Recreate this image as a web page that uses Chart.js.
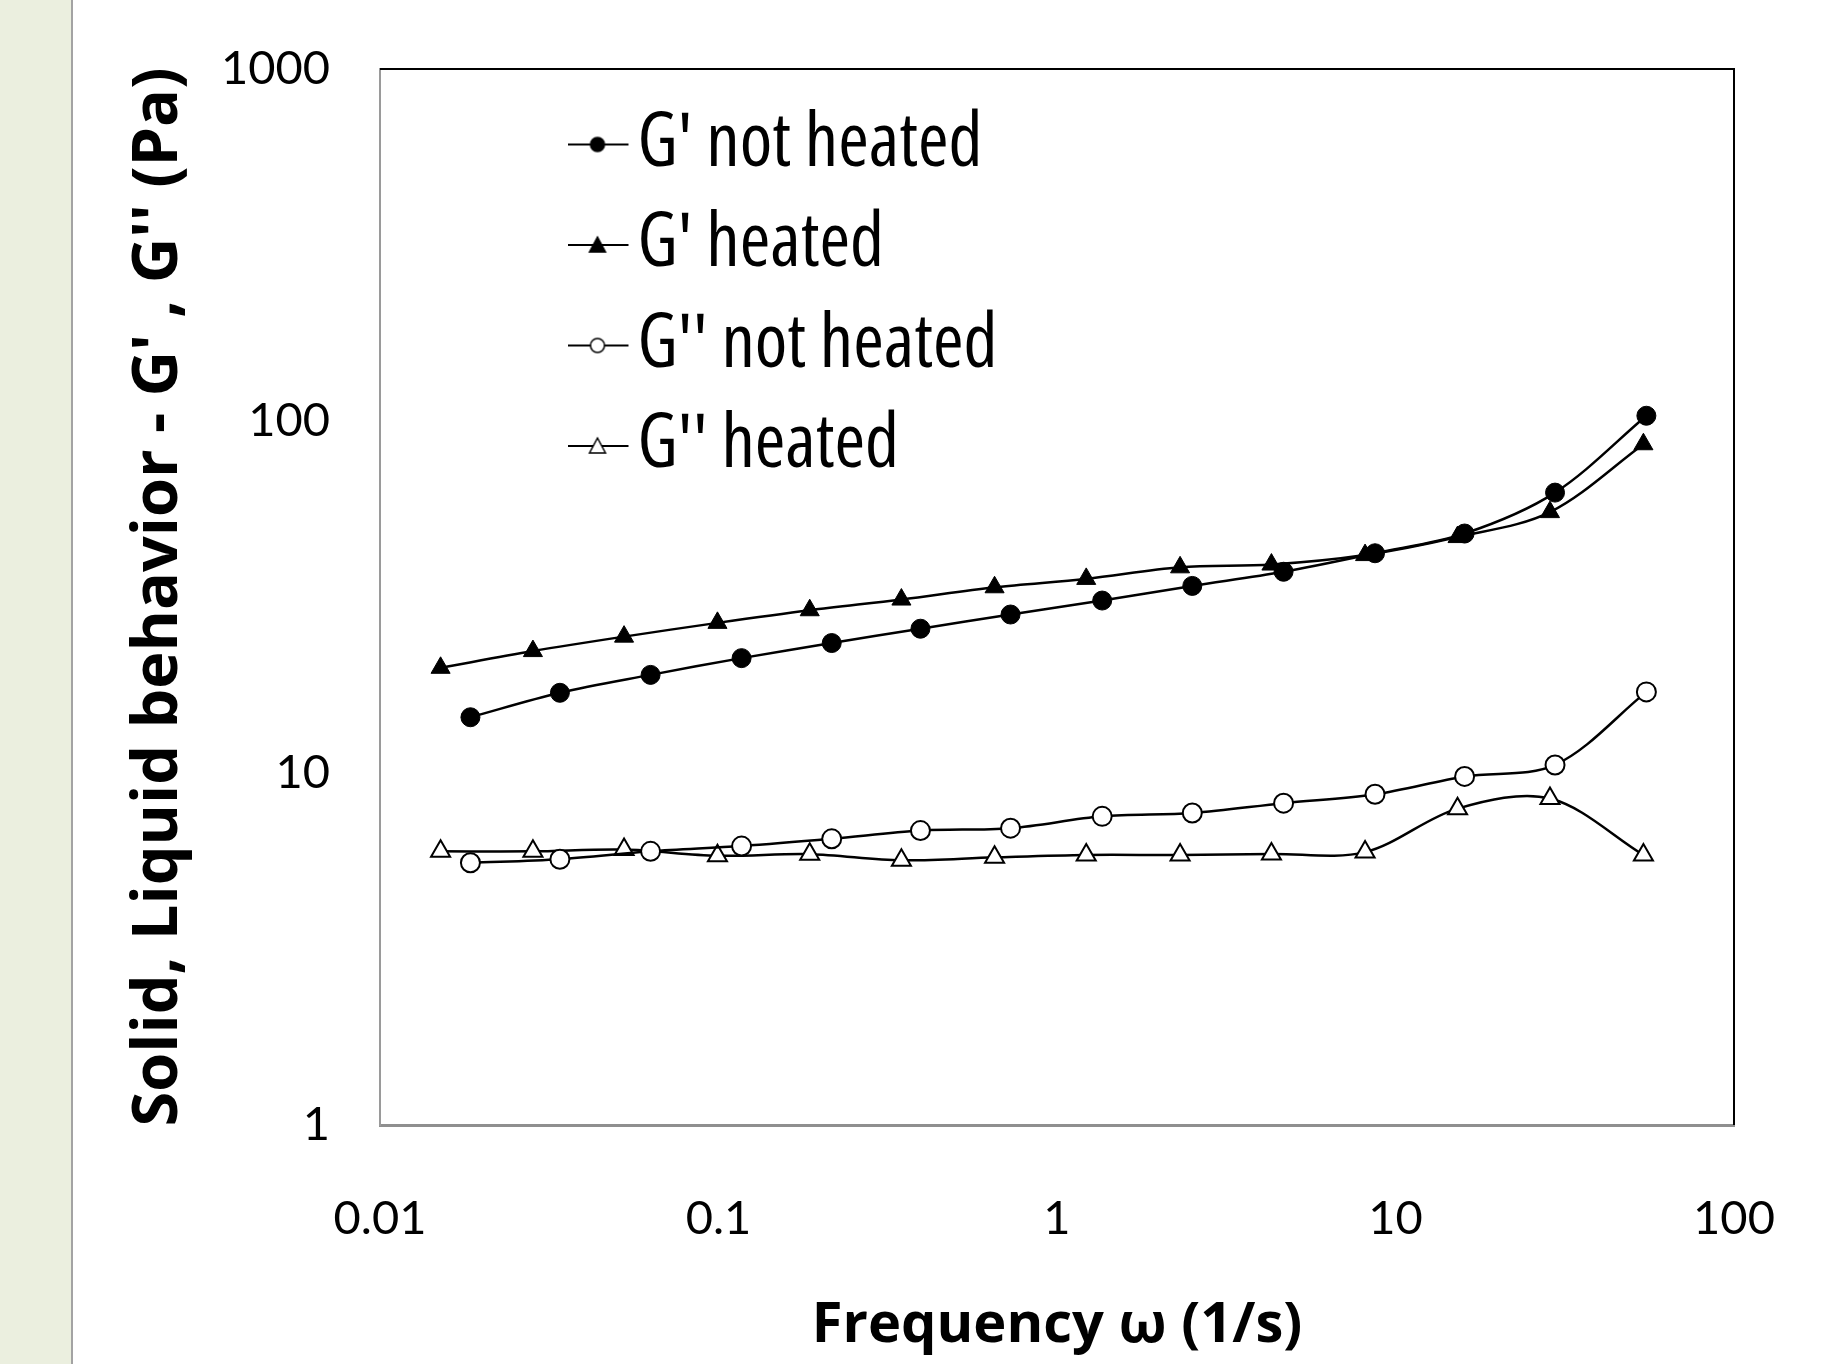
<!DOCTYPE html>
<html>
<head>
<meta charset="utf-8">
<script src="https://cdn.jsdelivr.net/npm/chart.js@4.4.1/dist/chart.umd.min.js"></script>
<style>
  html, body { margin: 0; padding: 0; }
  body {
    width: 1826px; height: 1364px; overflow: hidden;
    background: linear-gradient(to right, #ebefdf 0, #ebefdf 71px, #a3a3a3 71px, #a3a3a3 73px, #fff 73px);
  }
  canvas { display: block; }
</style>
</head>
<body>
<canvas id="rheoChart" width="1826" height="1364"></canvas>
<script>
// frequency sweep
const freqNotHeated = [0.0185, 0.034, 0.063, 0.117, 0.216, 0.395, 0.729, 1.36, 2.51, 4.67, 8.70, 16.0, 29.6, 55.1];
const freqHeated = [0.0151, 0.0283, 0.0526, 0.0993, 0.186, 0.347, 0.654, 1.22, 2.31, 4.30, 8.13, 15.25, 28.6, 54.0];

const gPrimeNotHeated = [14.4, 16.9, 19.0, 21.2, 23.4, 25.7, 28.2, 30.9, 34.0, 37.3, 42.1, 47.9, 62.6, 103.5];
const gPrimeHeated = [19.9, 22.2, 24.4, 26.7, 29.0, 31.1, 33.7, 35.6, 38.4, 39.1, 41.6, 46.8, 55.1, 85.9];
const gDoublePrimeNotHeated = [5.56, 5.69, 5.99, 6.20, 6.50, 6.86, 6.97, 7.53, 7.70, 8.21, 8.70, 9.78, 10.54, 17.0];
const gDoublePrimeHeated = [5.99, 5.99, 6.06, 5.82, 5.88, 5.65, 5.76, 5.85, 5.85, 5.89, 5.96, 7.92, 8.46, 5.85];

const seriesNames = ["G' not heated", "G' heated", "G'' not heated", "G'' heated"];
const xTicks = [0.01, 0.1, 1, 10, 100];
const xTickLabels = ['0.01', '0.1', '1', '10', '100'];
const yTicks = [1, 10, 100, 1000];
const yTickLabels = ['1', '10', '100', '1000'];

const tickFont = { family: 'Lato', size: 47 };
const titleFont = { family: "'Open Sans'", size: 63, weight: 'bold' };
// the stretch keyword goes into the css font shorthand through the weight slot
const legendFont = { family: "'Open Sans'", size: 74, weight: 'condensed' };

// excel style legend key: short line with the marker on it
function legendSymbol(shape, filled) {
    const c = document.createElement('canvas');
    c.width = 64; c.height = 22;
    const g = c.getContext('2d');
    g.strokeStyle = '#000';
    g.lineWidth = 2;
    g.beginPath(); g.moveTo(1, 11); g.lineTo(63, 11); g.stroke();
    g.fillStyle = filled ? '#000' : '#fff';
    g.lineWidth = 1.5;
    g.beginPath();
    if (shape === 'circle') {
        g.arc(32, 11, 7, 0, Math.PI * 2);
    } else {
        g.moveTo(32, 3); g.lineTo(40, 18); g.lineTo(24, 18); g.closePath();
    }
    g.fill(); g.stroke();
    return c;
}

const legendSymbols = [
    legendSymbol('circle', true),
    legendSymbol('triangle', true),
    legendSymbol('circle', false),
    legendSymbol('triangle', false)
];

function series(label, xs, ys, shape, filled) {
    return {
        label: label,
        data: xs.map((x, i) => ({ x: x, y: ys[i] })),
        showLine: true,
        borderColor: '#000',
        borderWidth: 2.5,
        tension: 0.33,
        pointStyle: shape,
        pointRadius: shape === 'triangle' ? 11 : 9.5,
        pointHoverRadius: shape === 'triangle' ? 11 : 9.5,
        pointBackgroundColor: filled ? '#000' : '#fff',
        pointBorderColor: '#000',
        pointBorderWidth: filled ? 1 : 2
    };
}

// top and right sides of the plot frame
const plotFrame = {
    id: 'plotFrame',
    beforeDatasetsDraw(chart) {
        const { ctx, chartArea: a } = chart;
        ctx.save();
        ctx.strokeStyle = '#000';
        ctx.lineWidth = 2;
        ctx.beginPath();
        ctx.moveTo(a.left, a.top);
        ctx.lineTo(a.right, a.top);
        ctx.lineTo(a.right, a.bottom);
        ctx.stroke();
        ctx.restore();
    }
};

// move the legend block inside the plot, upper left
const legendInPlot = {
    id: 'legendInPlot',
    afterLayout(chart) {
        const a = chart.chartArea;
        chart.legend.left = a.left + 188;
        chart.legend.top = a.top + 12;
    }
};

const ctx = document.getElementById('rheoChart').getContext('2d');
new Chart(ctx, {
    type: 'scatter',
    data: {
        datasets: [
            series(seriesNames[0], freqNotHeated, gPrimeNotHeated, 'circle', true),
            series(seriesNames[1], freqHeated, gPrimeHeated, 'triangle', true),
            series(seriesNames[2], freqNotHeated, gDoublePrimeNotHeated, 'circle', false),
            series(seriesNames[3], freqHeated, gDoublePrimeHeated, 'triangle', false)
        ]
    },
    options: {
        responsive: false,
        animation: false,
        devicePixelRatio: 1,
        layout: { padding: { left: 72, top: 69, right: 92, bottom: 0 } },
        scales: {
            x: {
                type: 'logarithmic',
                position: 'bottom',
                min: 0.01,
                max: 100,
                grid: { display: false, drawTicks: false },
                border: { display: true, color: '#8f8f8f', width: 3 },
                afterBuildTicks: s => { s.ticks = xTicks.map(v => ({ value: v })); },
                afterFit: s => { s.height = 239; s.paddingLeft = 0; s.paddingRight = 0; },
                ticks: {
                    padding: 66,
                    color: '#000',
                    font: tickFont,
                    autoSkip: false,
                    maxRotation: 0,
                    callback: (v, i) => xTickLabels[i]
                },
                title: {
                    display: true,
                    text: 'Frequency ω (1/s)',
                    color: '#000',
                    font: { family: "'Open Sans'", size: 56, weight: 'bold' },
                    padding: { top: 0, bottom: 4 }
                }
            },
            y: {
                type: 'logarithmic',
                position: 'left',
                min: 1,
                max: 1000,
                grid: { display: false, drawTicks: false },
                border: { display: true, color: '#9a9a9a', width: 2 },
                afterBuildTicks: s => { s.ticks = yTicks.map(v => ({ value: v })); },
                afterFit: s => { s.width = 308; s.paddingTop = 0; s.paddingBottom = 0; },
                ticks: {
                    padding: 50,
                    color: '#000',
                    font: tickFont,
                    autoSkip: false,
                    callback: (v, i) => yTickLabels[i]
                },
                title: {
                    display: true,
                    text: "Solid, Liquid behavior - G' , G'' (Pa)",
                    color: '#000',
                    font: titleFont,
                    padding: { top: 49, bottom: 0 }
                }
            }
        },
        plugins: {
            legend: {
                display: true,
                position: 'chartArea',
                align: 'start',
                labels: {
                    color: '#000',
                    font: legendFont,
                    padding: 26.5,
                    usePointStyle: true,
                    pointStyleWidth: 6,
                    generateLabels: chart => {
                        const items = Chart.defaults.plugins.legend.labels.generateLabels(chart);
                        items.forEach((it, i) => { it.pointStyle = legendSymbols[i]; });
                        return items;
                    }
                }
            },
            tooltip: { enabled: false }
        }
    },
    plugins: [plotFrame, legendInPlot]
});
</script>
</body>
</html>
